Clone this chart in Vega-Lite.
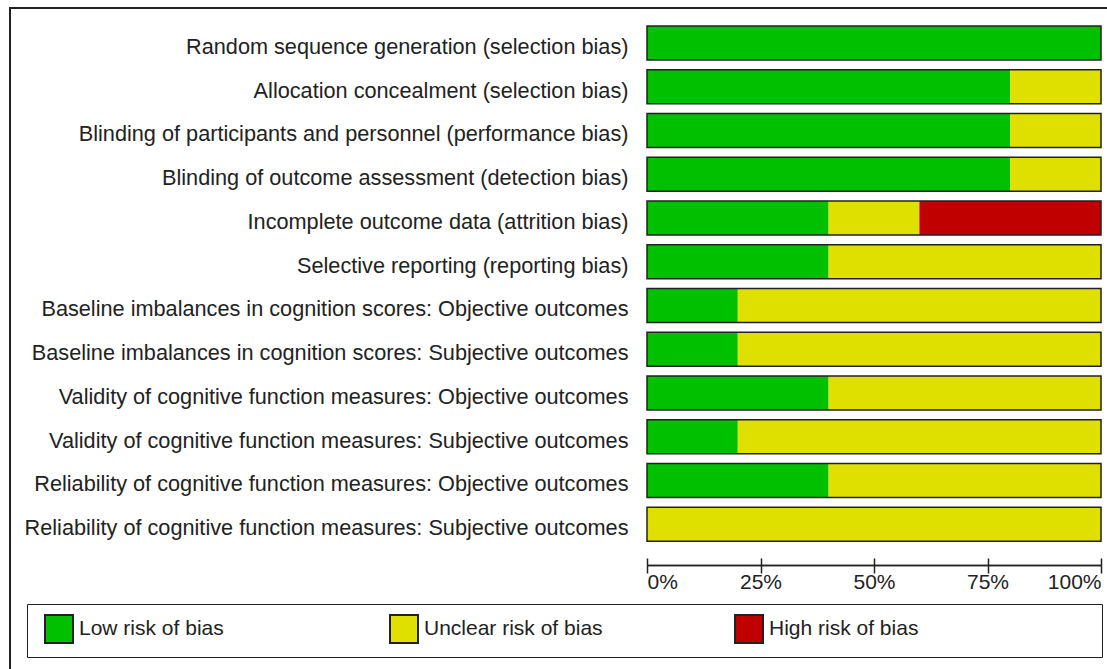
{
  "$schema": "https://vega.github.io/schema/vega-lite/v6.json",
  "width": 1099,
  "height": 663,
  "autosize": {"type": "none"},
  "padding": {"left": 10, "top": 8, "right": -2, "bottom": -2},
  "background": "white",
  "config": {"view": {"stroke": "#222", "strokeWidth": 2}},
  "data": {"values": [
    {"item": "Random sequence generation (selection bias)", "risk": "Low risk of bias", "pct": 100},
    {"item": "Allocation concealment (selection bias)", "risk": "Low risk of bias", "pct": 80},
    {"item": "Allocation concealment (selection bias)", "risk": "Unclear risk of bias", "pct": 20},
    {"item": "Blinding of participants and personnel (performance bias)", "risk": "Low risk of bias", "pct": 80},
    {"item": "Blinding of participants and personnel (performance bias)", "risk": "Unclear risk of bias", "pct": 20},
    {"item": "Blinding of outcome assessment (detection bias)", "risk": "Low risk of bias", "pct": 80},
    {"item": "Blinding of outcome assessment (detection bias)", "risk": "Unclear risk of bias", "pct": 20},
    {"item": "Incomplete outcome data (attrition bias)", "risk": "Low risk of bias", "pct": 40},
    {"item": "Incomplete outcome data (attrition bias)", "risk": "Unclear risk of bias", "pct": 20},
    {"item": "Incomplete outcome data (attrition bias)", "risk": "High risk of bias", "pct": 40},
    {"item": "Selective reporting (reporting bias)", "risk": "Low risk of bias", "pct": 40},
    {"item": "Selective reporting (reporting bias)", "risk": "Unclear risk of bias", "pct": 60},
    {"item": "Baseline imbalances in cognition scores: Objective outcomes", "risk": "Low risk of bias", "pct": 20},
    {"item": "Baseline imbalances in cognition scores: Objective outcomes", "risk": "Unclear risk of bias", "pct": 80},
    {"item": "Baseline imbalances in cognition scores: Subjective outcomes", "risk": "Low risk of bias", "pct": 20},
    {"item": "Baseline imbalances in cognition scores: Subjective outcomes", "risk": "Unclear risk of bias", "pct": 80},
    {"item": "Validity of cognitive function measures: Objective outcomes", "risk": "Low risk of bias", "pct": 40},
    {"item": "Validity of cognitive function measures: Objective outcomes", "risk": "Unclear risk of bias", "pct": 60},
    {"item": "Validity of cognitive function measures: Subjective outcomes", "risk": "Low risk of bias", "pct": 20},
    {"item": "Validity of cognitive function measures: Subjective outcomes", "risk": "Unclear risk of bias", "pct": 80},
    {"item": "Reliability of cognitive function measures: Objective outcomes", "risk": "Low risk of bias", "pct": 40},
    {"item": "Reliability of cognitive function measures: Objective outcomes", "risk": "Unclear risk of bias", "pct": 60},
    {"item": "Reliability of cognitive function measures: Subjective outcomes", "risk": "Unclear risk of bias", "pct": 100}
  ]},
  "layer": [
    {
      "transform": [{"calculate": "indexof(['Low risk of bias', 'Unclear risk of bias', 'High risk of bias'], datum.risk)", "as": "riskOrder"}],
      "mark": {"type": "bar"},
      "encoding": {
        "y": {
          "field": "item", "type": "nominal", "sort": null,
          "scale": {"range": [13.1, 538.1], "paddingInner": 0.223, "paddingOuter": 0.111},
          "axis": {"orient": "left", "offset": -618, "domain": false, "ticks": false, "tickSize": 0, "labelPadding": 0, "labelOffset": 4, "labelLimit": 900, "labelFont": "Liberation Sans", "labelFontSize": 21.7, "labelColor": "#222", "title": null, "grid": false}
        },
        "x": {
          "field": "pct", "type": "quantitative", "stack": "zero",
          "scale": {"domain": [0, 100], "range": [637, 1091], "nice": false},
          "axis": {"orient": "bottom", "offset": -106, "values": [0, 25, 50, 75, 100], "labelExpr": "datum.value + '%'", "labelFlush": true, "tickSize": 8, "tickColor": "#222", "tickWidth": 1.5, "domainColor": "#222", "domainWidth": 1.5, "labelPadding": -2, "labelFont": "Liberation Sans", "labelFontSize": 21, "labelColor": "#222", "grid": false, "title": null}
        },
        "order": {"field": "riskOrder", "type": "quantitative", "sort": "ascending"},
        "color": {
          "field": "risk", "type": "nominal",
          "sort": ["Low risk of bias", "Unclear risk of bias", "High risk of bias"],
          "scale": {"domain": ["Low risk of bias", "Unclear risk of bias", "High risk of bias"], "range": ["#00C000", "#E0E000", "#C00000"]},
          "legend": {"orient": "none", "legendX": 17, "legendY": 596, "direction": "horizontal", "columns": 3, "gridAlign": "all", "columnPadding": 124, "padding": 10, "symbolOffset": 7, "strokeColor": "#222", "symbolType": "square", "symbolSize": 784, "symbolStrokeColor": "#222", "symbolStrokeWidth": 2, "labelFont": "Liberation Sans", "labelFontSize": 21, "labelColor": "#222", "labelOffset": 5, "labelLimit": 500, "title": " ", "titleOrient": "right", "titlePadding": 174, "titleFontSize": 1}
        }
      }
    },
    {
      "mark": {"type": "bar", "fillOpacity": 0, "stroke": "#222", "strokeWidth": 1.5},
      "encoding": {
        "y": {"field": "item", "type": "nominal", "sort": null},
        "x": {
          "aggregate": "sum", "field": "pct", "type": "quantitative",
          "scale": {"domain": [0, 100], "range": [637, 1091], "nice": false},
          "axis": {"orient": "top", "offset": -557, "values": [0, 25, 50, 75, 100], "labels": false, "tickSize": 7, "tickColor": "#222", "tickWidth": 1.5, "domainColor": "#222", "domainWidth": 1.5, "grid": false, "title": null}
        }
      }
    }
  ],
  "resolve": {"scale": {"x": "independent"}, "axis": {"x": "independent"}}
}
